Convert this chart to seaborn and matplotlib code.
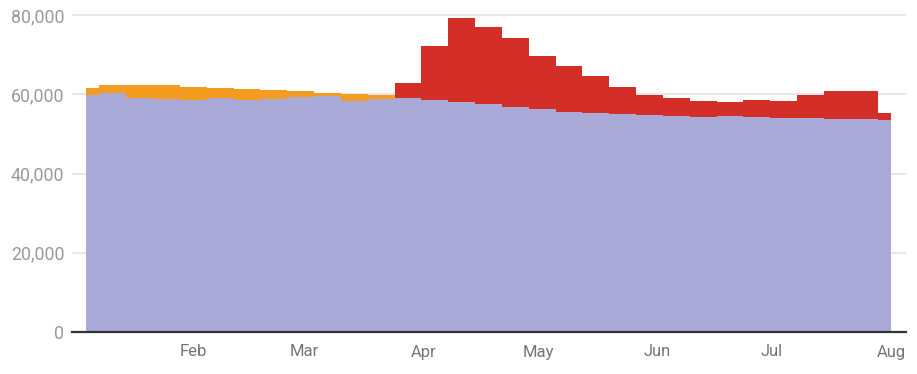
import numpy as np
import pandas as pd
import matplotlib
matplotlib.use("Agg")
import matplotlib.pyplot as plt
import matplotlib.dates as mdates
import matplotlib.ticker as mticker
import seaborn as sns

# ---- data (weekly, week dates) ----
week_start = "2020-01-04"
n_weeks = 31
expected = [59810, 60400, 59140, 58800, 58470, 58970, 58470, 58800, 59220, 59480,
            58300, 58880, 59140, 58630, 58040, 57460, 56780, 56280, 55520, 55270,
            54930, 54760, 54510, 54340, 54420, 54260, 54090, 53920, 53750, 53750,
            53500]
total = [61650, 62250, 62250, 62330, 61830, 61650, 61400, 61150, 60820, 60400,
         60060, 59730, 62920, 72260, 79160, 76970, 74120, 69570, 67050, 64690,
         61830, 59900, 59140, 58300, 58120, 58550, 58300, 59810, 60740, 60820,
         55190]
covid_start = 12  # index of first week shown in red
# seaborn stacks the first hue level on top
components = ["excess_covid", "excess_early", "expected"]
palette = {"expected": "#a9aad7", "excess_early": "#f39c1f", "excess_covid": "#d32e27"}
y_ticks = [0, 20000, 40000, 60000, 80000]
month_ticks = ["2020-02-01", "2020-03-01", "2020-04-01", "2020-05-01",
               "2020-06-01", "2020-07-01", "2020-08-01"]

dates = pd.date_range(week_start, periods=n_weeks, freq="7D")
x = mdates.date2num(dates)
rows = []
for i in range(n_weeks):
    exc = total[i] - expected[i]
    rows.append((float(x[i]), "expected", float(expected[i])))
    rows.append((float(x[i]), "excess_early", float(exc if i < covid_start else 0)))
    rows.append((float(x[i]), "excess_covid", float(exc if i >= covid_start else 0)))
df = pd.DataFrame(rows, columns=["date", "component", "deaths"])

edges = [float(v) for v in np.concatenate([[x[0]], (x[:-1] + x[1:]) / 2, [x[-1]]])]

sns.set_theme(style="white")
plt.rcParams["font.family"] = ["Roboto", "DejaVu Sans"]

fig = plt.figure(figsize=(9.17, 3.74), dpi=100)
ax = fig.add_axes([72 / 917, 42 / 374, (906 - 72) / 917, (332 - 5) / 374])

sns.histplot(data=df, x="date", weights="deaths", hue="component",
             hue_order=components, palette=palette, bins=edges,
             multiple="stack", element="step", fill=True, alpha=1,
             linewidth=0, legend=False, zorder=3, ax=ax)

day = 805 / 210.0
ax.set_xlim(x[0] - 14 / day, x[-1] + 15 / day)
ax.set_ylim(0, 80000 + 10 / 79.25 * 20000)

ax.set_yticks(y_ticks)
ax.yaxis.set_major_formatter(mticker.FuncFormatter(lambda v, p: f"{int(v):,}"))
ax.set_xticks(mdates.date2num(pd.to_datetime(month_ticks)))
ax.xaxis.set_major_formatter(mdates.DateFormatter("%b"))

ax.set_axisbelow(True)
ax.grid(axis="y", color="#e3e3e3", linewidth=1.2, zorder=0)
ax.grid(axis="x", visible=False)
for s in ["top", "right", "left"]:
    ax.spines[s].set_visible(False)
ax.spines["bottom"].set_color("#333333")
ax.spines["bottom"].set_linewidth(1.6)
ax.spines["bottom"].set_zorder(5)

ax.tick_params(axis="y", length=0, pad=5.5, labelsize=12.8, labelcolor="#9a9a9a")
ax.tick_params(axis="x", length=0, pad=9, labelsize=12, labelcolor="#757575")
ax.set_xlabel("")
ax.set_ylabel("")

fig.savefig("out.png", dpi=100)
